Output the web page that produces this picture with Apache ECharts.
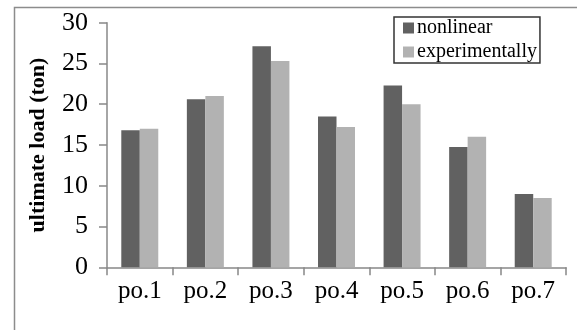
<!DOCTYPE html>
<html><head><meta charset="utf-8">
<script src="https://cdn.jsdelivr.net/npm/echarts@6/dist/echarts.min.js"></script>
<style>html,body{margin:0;padding:0;background:#fff}#c{width:577px;height:330px}</style>
</head><body><div id="c"></div>
<script>
var categories = ['po.1','po.2','po.3','po.4','po.5','po.6','po.7'];
var nonlinear = [16.8, 20.6, 27.1, 18.5, 22.3, 14.75, 9.0];
var experimentally = [17.0, 21.0, 25.3, 17.2, 20.0, 16.0, 8.5];
var yTicks = [0, 5, 10, 15, 20, 25, 30];

var chart = echarts.init(document.getElementById('c'));
var font = '"Liberation Serif", "Times New Roman", serif';
chart.setOption({
  animation: false,
  backgroundColor: '#fff',
  graphic: [{type:'rect', left: 12, top: 5, shape:{width: 600, height: 400}, style:{fill:'none', stroke:'#8c8c8c', lineWidth:1.5}, z: -1}],
  grid: {left: 107, right: 11, top: 22.7, bottom: 62.7},
  legend: {
    orient: 'vertical', left: 394, top: 17,
    padding: [0, 3, 0, 9], itemGap: 2, itemWidth: 11, itemHeight: 11,
    borderColor: '#333', borderWidth: 1.5,
    icon: 'rect',
    textStyle: {fontFamily: font, fontSize: 20, lineHeight: 22, color: '#000', padding: [0,0,0,-2]},
    data: ['nonlinear', 'experimentally']
  },
  xAxis: {
    type: 'category', data: categories,
    axisLine: {lineStyle: {color: '#888', width: 1.5}},
    axisTick: {show: true, length: 8, lineStyle: {color: '#888', width: 1.5}},
    axisLabel: {fontFamily: font, fontSize: 25, color: '#000', margin: 12}
  },
  yAxis: {
    type: 'value', min: yTicks[0], max: yTicks[yTicks.length-1], interval: 5,
    name: 'ultimate load (ton)', nameLocation: 'middle', nameGap: 58,
    nameTextStyle: {fontFamily: font, fontSize: 22, fontWeight: 'bold', color: '#000'},
    axisLine: {show: true, lineStyle: {color: '#888', width: 1.5}},
    axisTick: {show: true, length: 8, lineStyle: {color: '#888', width: 1.5}},
    splitLine: {show: false},
    axisLabel: {fontFamily: font, fontSize: 26, color: '#000', margin: 19}
  },
  series: [
    {name: 'nonlinear', type: 'bar', data: nonlinear, itemStyle: {color: '#616161'}, barGap: '0%', barCategoryGap: '43.6%'},
    {name: 'experimentally', type: 'bar', data: experimentally, itemStyle: {color: '#b2b2b2'}}
  ]
});
</script></body></html>
